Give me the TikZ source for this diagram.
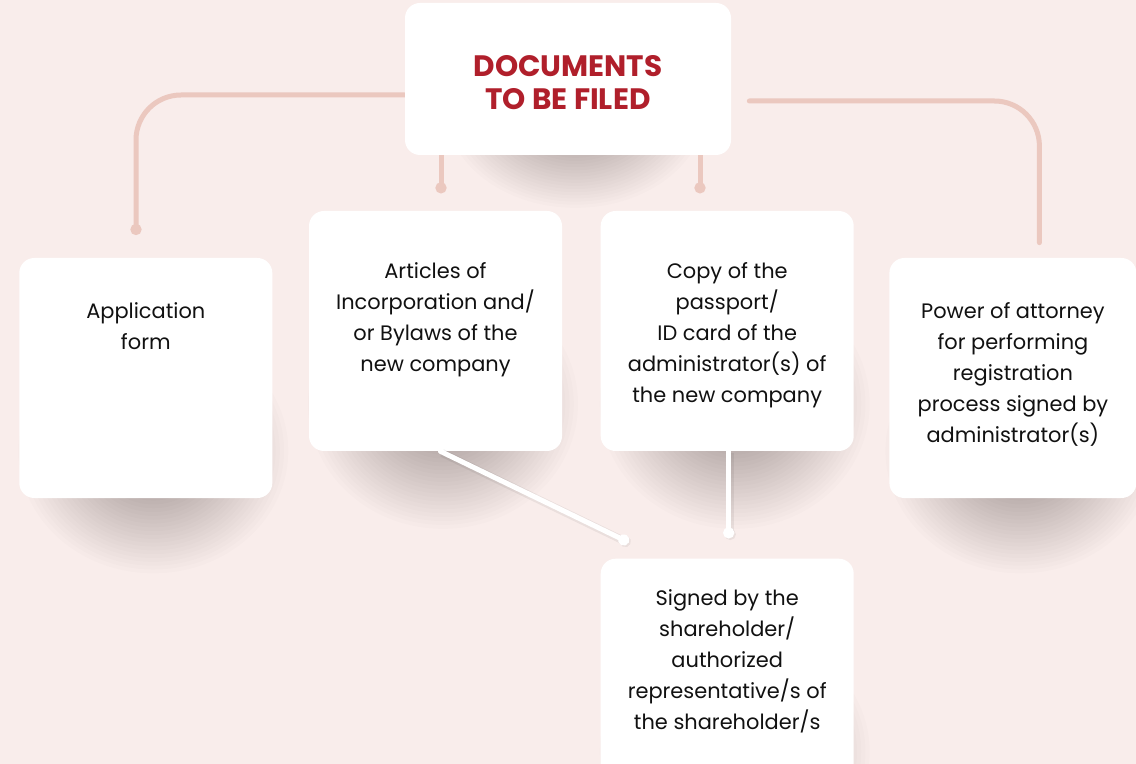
\documentclass[tikz,border=0pt]{standalone}
\usepackage{fontspec}
\setmainfont{Poppins}
\usepackage{tikz}
\usetikzlibrary{positioning,arrows.meta}

\definecolor{pagebg}{HTML}{F9EDEB}
\definecolor{linkpink}{HTML}{EBC8BF}
\definecolor{titlered}{HTML}{B01F2B}
\definecolor{inkblack}{HTML}{111111}

\pgfdeclarelayer{paper}
\pgfdeclarelayer{shade}
\pgfdeclarelayer{links}
\pgfsetlayers{paper,shade,links,main}

% soft shadow under a card: node, x radius, y radius
\newcommand{\cardshadow}[3]{%
    \foreach \k in {1,...,32}{%
        \pgfmathsetmacro{\f}{\k/32}%
        \fill[black, opacity=0.0105] ([xshift=0.15cm, yshift=0.95cm]#1.south)
            ellipse [x radius=\f*#2, y radius=\f*#3];
    }%
}

\begin{document}
\begin{tikzpicture}[
    node distance=0.76cm,
    card/.style={rectangle, rounded corners=0.3cm, fill=white, minimum width=5.06cm, minimum height=4.8cm},
    cardtext/.style={inner sep=0pt, align=center, text=inkblack, font=\fontsize{11.9}{17.6}\selectfont, anchor=north},
    titletext/.style={inner sep=0pt, align=center, text=titlered, font=\fontsize{16.8}{18.8}\selectfont\bfseries, anchor=north},
    link/.style={line width=0.1cm, draw=linkpink, line cap=round},
    stem/.style={line width=0.1cm, draw=white, line cap=round,
        preaction={draw=black, draw opacity=0.06, line width=0.16cm, transform canvas={xshift=0.03cm, yshift=-0.03cm}}},
    dot/.style={-{Circle[length=0.22cm]}}
]
    % Page
    \useasboundingbox (0,0) rectangle (22.72,-15.28);
    \begin{pgfonlayer}{paper}
        \fill[pagebg] (0,0) rectangle (22.72,-15.28);
    \end{pgfonlayer}

    % Title
    \node[card, minimum width=6.52cm, minimum height=3.04cm] (title) at (11.36,-1.58) {};
    \node[titletext, below=1.04cm of title.north] (titlelabel) {DOCUMENTS\\TO BE FILED};

    % Cards
    \node[card] (articles) at (8.71,-6.62) {};
    \node[card, right=of articles] (copy) {};
    \node[card, left=0.72cm of articles, yshift=-0.94cm] (app) {};
    \node[card, right=0.7cm of copy, yshift=-0.94cm, minimum width=4.94cm] (power) {};
    \node[card, below=2.14cm of copy] (signed) {};

    % Texts
    \node[cardtext, below=0.9cm of app.north] (apptext) {Application\\form};
    \node[cardtext, below=1.04cm of articles.north] (articlestext) {Articles of\\Incorporation and/\\or Bylaws of the\\new company};
    \node[cardtext, below=1.04cm of copy.north] (copytext) {Copy of the\\passport/\\ID card of the\\administrator(s) of\\the new company};
    \node[cardtext, below=0.9cm of power.north] (powertext) {Power of attorney\\for performing\\registration\\process signed by\\administrator(s)};
    \node[cardtext, below=0.62cm of signed.north] (signedtext) {Signed by the\\shareholder/\\authorized\\representative/s of\\the shareholder/s};

    % Shadows
    \begin{pgfonlayer}{shade}
        \cardshadow{title}{2.6cm}{2.0cm}
        \cardshadow{app}{2.7cm}{2.45cm}
        \cardshadow{articles}{2.7cm}{2.5cm}
        \cardshadow{copy}{2.7cm}{2.5cm}
        \cardshadow{power}{2.7cm}{2.45cm}
        \cardshadow{signed}{2.7cm}{2.45cm}
    \end{pgfonlayer}

    % Links from the title
    \begin{pgfonlayer}{links}
        \coordinate (appin) at (2.72,-4.70);
        \coordinate (artin) at ([xshift=-2.54cm,yshift=-0.76cm]title.south);
        \coordinate (copin) at ([xshift=2.64cm,yshift=-0.76cm]title.south);
        \coordinate (powout) at ([xshift=0.36cm,yshift=-0.44cm]title.east);
        \coordinate (powin) at ([xshift=0.53cm,yshift=0.3cm]power.north);
        \draw[link, dot, rounded corners=0.9cm] ([yshift=-0.32cm]title.west) -| (appin);
        \draw[link, dot] (title.south -| artin) -- (artin);
        \draw[link, dot] (title.south -| copin) -- (copin);
        \draw[link, rounded corners=0.9cm] (powout) -| (powin);
    \end{pgfonlayer}

    % Links to the signature card
    \coordinate (sigleft) at ([xshift=-1.97cm,yshift=0.32cm]signed.north);
    \coordinate (sigtop) at ([xshift=0.03cm,yshift=0.4cm]signed.north);
    \draw[stem, dot] ([xshift=0.1cm]articles.south) -- (sigleft);
    \draw[stem, dot] ([xshift=0.03cm]copy.south) -- (sigtop);

\end{tikzpicture}
\end{document}
